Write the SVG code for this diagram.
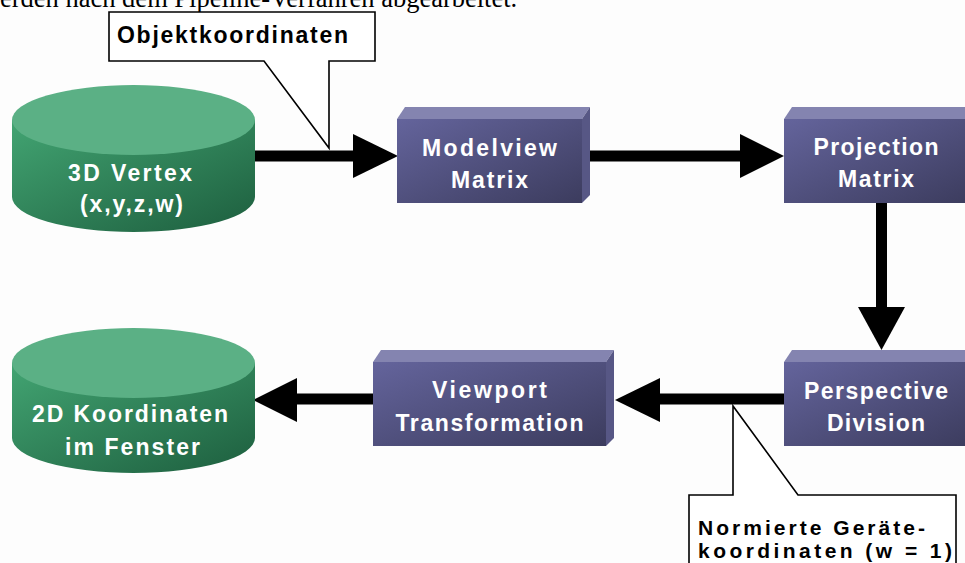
<svg xmlns="http://www.w3.org/2000/svg" width="965" height="563" viewBox="0 0 965 563">
<defs>
<linearGradient id="gBox" x1="0" y1="0" x2="1" y2="1">
<stop offset="0" stop-color="#64649C"/>
<stop offset="1" stop-color="#3C3C5E"/>
</linearGradient>
<linearGradient id="gCyl" x1="0" y1="0" x2="1" y2="1">
<stop offset="0" stop-color="#42A472"/>
<stop offset="1" stop-color="#1D5E3E"/>
</linearGradient>
<style>
.lbl{font-family:"Liberation Sans",Arial,sans-serif;font-weight:bold;font-size:23px;fill:#fff;text-anchor:middle}
.call{font-family:"Liberation Sans",Arial,sans-serif;font-weight:bold;font-size:23px;fill:#000}
.call2{font-family:"Liberation Sans",Arial,sans-serif;font-weight:bold;font-size:21px;fill:#000}
.top{fill:#8484B0}
.side{fill:#575785}
.front{fill:url(#gBox)}
.cyltop{fill:#5BB085}
.cylbody{fill:url(#gCyl)}
.callout{fill:#fff;stroke:#000;stroke-width:1.6}
.ar{fill:#000}
</style>
</defs>
<rect x="0" y="0" width="965" height="563" fill="#FDFDFD"/>
<text x="0" y="7" font-family="'Liberation Serif','Times New Roman',serif" font-size="26.5" fill="#000">erden nach dem Pipeline-Verfahren abgearbeitet.</text>

<g id="connectors">
<rect class="ar" x="255" y="150.5" width="101" height="11"/>
<polygon class="ar" points="353,134 398,156 353,178"/>
<rect class="ar" x="590" y="150.5" width="152" height="11"/>
<polygon class="ar" points="740,134 784,156 740,178"/>
<rect class="ar" x="876" y="203" width="11" height="106"/>
<polygon class="ar" points="858,307 881.5,350 905,307"/>
<rect class="ar" x="658" y="393.5" width="126" height="11"/>
<polygon class="ar" points="660,378 615,400 660,422"/>
<rect class="ar" x="295" y="393.5" width="78" height="11"/>
<polygon class="ar" points="297,378 253,400 297,422"/>
</g>

<g id="callout-objekt">
<path class="callout" d="M109 12 H375 V61 H329 V148 L264 61 H109 Z"/>
<text class="call" x="117" y="43" textLength="231" lengthAdjust="spacing">Objektkoordinaten</text>
</g>

<g id="vertex3d">
<path class="cylbody" d="M12 120 V197 A121.5 35 0 0 0 255 197 V120 Z"/>
<ellipse class="cyltop" cx="133.5" cy="120" rx="121.5" ry="35"/>
<text class="lbl" x="130" y="181" textLength="124" lengthAdjust="spacing">3D Vertex</text>
<text class="lbl" x="131.5" y="212" textLength="103" lengthAdjust="spacing">(x,y,z,w)</text>
</g>

<g id="modelview">
<polygon class="top" points="397,119 405,107 590,107 582,119"/>
<polygon class="side" points="582,119 590,107 590,195 582,203"/>
<rect class="front" x="397" y="119" width="185" height="84"/>
<text class="lbl" x="489.5" y="156" textLength="135" lengthAdjust="spacing">Modelview</text>
<text class="lbl" x="489.5" y="188" textLength="77" lengthAdjust="spacing">Matrix</text>
</g>

<g id="projection">
<polygon class="top" points="784,119 792,107 977,107 969,119"/>
<rect class="front" x="784" y="119" width="185" height="84"/>
<text class="lbl" x="876" y="155" textLength="125" lengthAdjust="spacing">Projection</text>
<text class="lbl" x="876" y="187" textLength="76" lengthAdjust="spacing">Matrix</text>
</g>

<g id="perspective">
<polygon class="top" points="784,362 792,350 977,350 969,362"/>
<rect class="front" x="784" y="362" width="185" height="84"/>
<text class="lbl" x="876" y="399" textLength="144" lengthAdjust="spacing">Perspective</text>
<text class="lbl" x="876" y="431" textLength="98" lengthAdjust="spacing">Division</text>
</g>

<g id="viewport">
<polygon class="top" points="373,362 381,350 614,350 606,362"/>
<polygon class="side" points="606,362 614,350 614,438 606,446"/>
<rect class="front" x="373" y="362" width="233" height="84"/>
<text class="lbl" x="489.5" y="398" textLength="115" lengthAdjust="spacing">Viewport</text>
<text class="lbl" x="489.5" y="431" textLength="188" lengthAdjust="spacing">Transformation</text>
</g>

<g id="coords2d">
<path class="cylbody" d="M12 363 V438 A121.5 35 0 0 0 255 438 V363 Z"/>
<ellipse class="cyltop" cx="133.5" cy="363" rx="121.5" ry="35"/>
<text class="lbl" x="130" y="422" textLength="196" lengthAdjust="spacing">2D Koordinaten</text>
<text class="lbl" x="132.5" y="455" textLength="135" lengthAdjust="spacing">im Fenster</text>
</g>

<g id="callout-ndc">
<path class="callout" d="M689 495 H733 V406 L798 495 H956 V575 H689 Z"/>
<text class="call2" x="698" y="535" textLength="227" lengthAdjust="spacing">Normierte Geräte-</text>
<text class="call2" x="698" y="558" textLength="254" lengthAdjust="spacing">koordinaten (w = 1)</text>
</g>
</svg>
